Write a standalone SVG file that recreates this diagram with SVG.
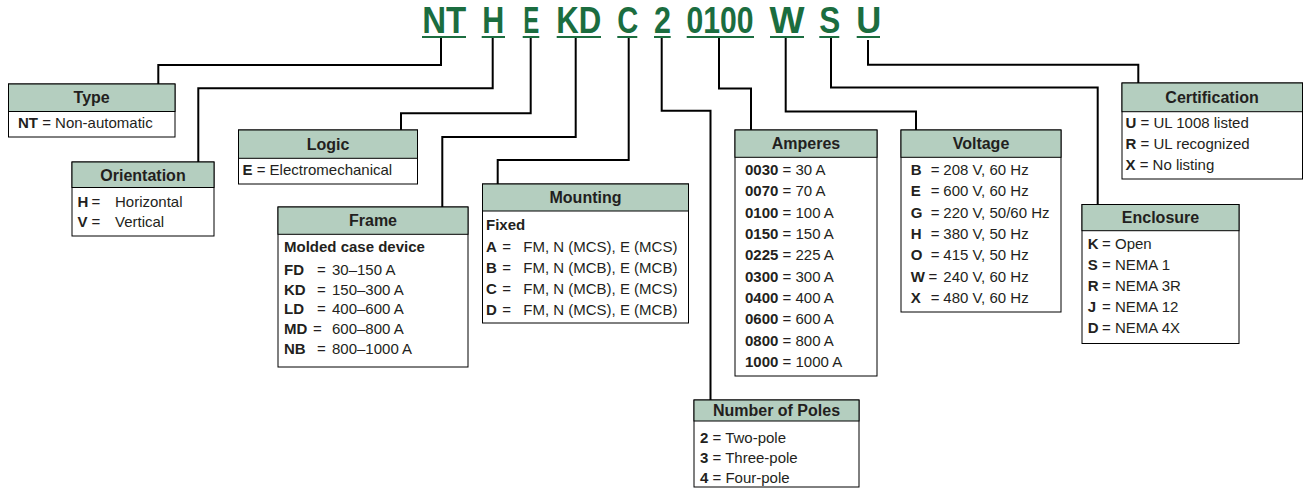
<svg xmlns="http://www.w3.org/2000/svg" width="1303" height="498" viewBox="0 0 1303 498">
<style>
text{font-family:"Liberation Sans",Arial,sans-serif;fill:#231f20;font-size:15px}
.code{font-size:36px;font-weight:bold;fill:#1b6d3f;text-anchor:middle}
.ul{fill:#1b6d3f}
.box{fill:#fff;stroke:#000;stroke-width:1}
.hdr{fill:#b4cebf;stroke:#000;stroke-width:1}
.title{font-size:16px;font-weight:bold;text-anchor:middle}
.k{font-weight:bold}
.conn path{fill:none;stroke:#000;stroke-width:2}
</style>
<rect width="1303" height="498" fill="#fff"/>
<g id="code">
<text class="code" x="444.2" y="33.3" textLength="44" lengthAdjust="spacingAndGlyphs">NT</text>
<text class="code" x="493.3" y="33.3" textLength="22" lengthAdjust="spacingAndGlyphs">H</text>
<text class="code" x="531.2" y="33.3" textLength="16" lengthAdjust="spacingAndGlyphs">E</text>
<text class="code" x="578.7" y="33.3" textLength="45" lengthAdjust="spacingAndGlyphs">KD</text>
<text class="code" x="627.8" y="33.3" textLength="21" lengthAdjust="spacingAndGlyphs">C</text>
<text class="code" x="662.5" y="33.3" textLength="17" lengthAdjust="spacingAndGlyphs">2</text>
<text class="code" x="720" y="33.3" textLength="67" lengthAdjust="spacingAndGlyphs">0100</text>
<text class="code" x="787" y="33.3" textLength="35" lengthAdjust="spacingAndGlyphs">W</text>
<text class="code" x="829.7" y="33.3" textLength="21" lengthAdjust="spacingAndGlyphs">S</text>
<text class="code" x="868.7" y="33.3" textLength="25" lengthAdjust="spacingAndGlyphs">U</text>
<rect class="ul" x="422" y="36" width="44" height="2"/>
<rect class="ul" x="481.7" y="36" width="23.3" height="2"/>
<rect class="ul" x="522.7" y="36" width="16.6" height="2"/>
<rect class="ul" x="556.7" y="36" width="44.3" height="2"/>
<rect class="ul" x="617.3" y="36" width="20" height="2"/>
<rect class="ul" x="654" y="36" width="16.7" height="2"/>
<rect class="ul" x="686.7" y="36" width="67.3" height="2"/>
<rect class="ul" x="770" y="36" width="34" height="2"/>
<rect class="ul" x="819.3" y="36" width="20" height="2"/>
<rect class="ul" x="856.7" y="36" width="23.3" height="2"/>
</g>
<g class="conn" id="connectors">
<path d="M441,38 V65 H158.3 V84"/>
<path d="M492.7,38 V88.3 H198.3 V162"/>
<path d="M530.7,38 V113.3 H401 V130"/>
<path d="M575.7,38 V137 H442.3 V207"/>
<path d="M628.7,38 V160 H497.7 V184"/>
<path d="M661.7,38 V110.7 H710.5 V400"/>
<path d="M719,38 V88.5 H751 V130"/>
<path d="M785.7,38 V111.5 H916 V130"/>
<path d="M831,38 V87.5 H1097.7 V204.5"/>
<path d="M868,40 V64.7 H1138.3 V83"/>
</g>
<g id="type">
<rect class="box" x="8.5" y="84" width="166.5" height="53"/>
<rect class="hdr" x="8.5" y="84" width="166.5" height="27.5"/>
<text class="title" x="91.7" y="102.5">Type</text>
<text x="18" y="128"><tspan class="k">NT</tspan> = Non-automatic</text>
</g>
<g id="orientation">
<rect class="box" x="72" y="162" width="142" height="74"/>
<rect class="hdr" x="72" y="162" width="142" height="25.5"/>
<text class="title" x="143" y="180.5">Orientation</text>
<text class="k" x="77.5" y="206.7">H</text><text x="91.5" y="206.7">=</text><text x="115" y="206.7">Horizontal</text>
<text class="k" x="77.5" y="227">V</text><text x="91.5" y="227">=</text><text x="115" y="227">Vertical</text>
</g>
<g id="logic">
<rect class="box" x="238.5" y="130" width="179" height="54"/>
<rect class="hdr" x="238.5" y="130" width="179" height="28.3"/>
<text class="title" x="328" y="149.5">Logic</text>
<text x="242.5" y="175"><tspan class="k">E</tspan> = Electromechanical</text>
</g>
<g id="frame">
<rect class="box" x="278" y="207" width="190" height="160"/>
<rect class="hdr" x="278" y="207" width="190" height="27.3"/>
<text class="title" x="373" y="226">Frame</text>
<text class="k" x="284" y="252.3">Molded case device</text>
<text class="k" x="284" y="275">FD</text><text x="317" y="275">=</text><text x="332" y="275">30–150 A</text>
<text class="k" x="284" y="294.5">KD</text><text x="317" y="294.5">=</text><text x="332" y="294.5">150–300 A</text>
<text class="k" x="284" y="314">LD</text><text x="317" y="314">=</text><text x="332" y="314">400–600 A</text>
<text class="k" x="284" y="334">MD</text><text x="313" y="334">=</text><text x="332" y="334">600–800 A</text>
<text class="k" x="284" y="353.5">NB</text><text x="317" y="353.5">=</text><text x="332" y="353.5">800–1000 A</text>
</g>
<g id="mounting">
<rect class="box" x="482.5" y="184" width="206" height="139"/>
<rect class="hdr" x="482.5" y="184" width="206" height="27"/>
<text class="title" x="585.5" y="203">Mounting</text>
<text class="k" x="486" y="230">Fixed</text>
<text class="k" x="486" y="251.5">A</text><text x="502.3" y="251.5">=</text><text x="523.3" y="251.5">FM, N (MCS), E (MCS)</text>
<text class="k" x="486" y="272.5">B</text><text x="502.3" y="272.5">=</text><text x="523.3" y="272.5">FM, N (MCB), E (MCB)</text>
<text class="k" x="486" y="293.5">C</text><text x="502.3" y="293.5">=</text><text x="523.3" y="293.5">FM, N (MCB), E (MCS)</text>
<text class="k" x="486" y="314.5">D</text><text x="502.3" y="314.5">=</text><text x="523.3" y="314.5">FM, N (MCS), E (MCB)</text>
</g>
<g id="amperes">
<rect class="box" x="735" y="130" width="142" height="246"/>
<rect class="hdr" x="735" y="130" width="142" height="27.3"/>
<text class="title" x="806" y="148.5">Amperes</text>
<text x="745" y="175"><tspan class="k">0030</tspan> = 30 A</text>
<text x="745" y="196.3"><tspan class="k">0070</tspan> = 70 A</text>
<text x="745" y="217.7"><tspan class="k">0100</tspan> = 100 A</text>
<text x="745" y="239"><tspan class="k">0150</tspan> = 150 A</text>
<text x="745" y="260.3"><tspan class="k">0225</tspan> = 225 A</text>
<text x="745" y="281.7"><tspan class="k">0300</tspan> = 300 A</text>
<text x="745" y="303"><tspan class="k">0400</tspan> = 400 A</text>
<text x="745" y="324.3"><tspan class="k">0600</tspan> = 600 A</text>
<text x="745" y="345.7"><tspan class="k">0800</tspan> = 800 A</text>
<text x="745" y="367"><tspan class="k">1000</tspan> = 1000 A</text>
</g>
<g id="voltage">
<rect class="box" x="901" y="130" width="160" height="182"/>
<rect class="hdr" x="901" y="130" width="160" height="27.3"/>
<text class="title" x="981" y="148.5">Voltage</text>
<text class="k" x="910.7" y="175">B</text><text x="930.7" y="175">=</text><text x="943.3" y="175">208 V, 60 Hz</text>
<text class="k" x="910.7" y="196.3">E</text><text x="930.7" y="196.3">=</text><text x="943.3" y="196.3">600 V, 60 Hz</text>
<text class="k" x="910.7" y="217.7">G</text><text x="930.7" y="217.7">=</text><text x="943.3" y="217.7">220 V, 50/60 Hz</text>
<text class="k" x="910.7" y="239">H</text><text x="930.7" y="239">=</text><text x="943.3" y="239">380 V, 50 Hz</text>
<text class="k" x="910.7" y="260.3">O</text><text x="930.7" y="260.3">=</text><text x="943.3" y="260.3">415 V, 50 Hz</text>
<text class="k" x="910.7" y="281.7">W</text><text x="928.5" y="281.7">=</text><text x="943.3" y="281.7">240 V, 60 Hz</text>
<text class="k" x="910.7" y="303">X</text><text x="930.7" y="303">=</text><text x="943.3" y="303">480 V, 60 Hz</text>
</g>
<g id="poles">
<rect class="box" x="694" y="400" width="165" height="87"/>
<rect class="hdr" x="694" y="400" width="165" height="21"/>
<text class="title" x="776.5" y="416">Number of Poles</text>
<text x="700" y="443"><tspan class="k">2</tspan> = Two-pole</text>
<text x="700" y="463"><tspan class="k">3</tspan> = Three-pole</text>
<text x="700" y="483"><tspan class="k">4</tspan> = Four-pole</text>
</g>
<g id="enclosure">
<rect class="box" x="1082" y="204.5" width="157" height="139"/>
<rect class="hdr" x="1082" y="204.5" width="157" height="26.2"/>
<text class="title" x="1160.5" y="222.5">Enclosure</text>
<text class="k" x="1087.7" y="248.5">K</text><text x="1102" y="248.5">=</text><text x="1115" y="248.5">Open</text>
<text class="k" x="1087.7" y="269.5">S</text><text x="1102" y="269.5">=</text><text x="1115" y="269.5">NEMA 1</text>
<text class="k" x="1087.7" y="290.5">R</text><text x="1102" y="290.5">=</text><text x="1115" y="290.5">NEMA 3R</text>
<text class="k" x="1087.7" y="311.5">J</text><text x="1102" y="311.5">=</text><text x="1115" y="311.5">NEMA 12</text>
<text class="k" x="1087.7" y="332.5">D</text><text x="1102" y="332.5">=</text><text x="1115" y="332.5">NEMA 4X</text>
</g>
<g id="certification">
<rect class="box" x="1122" y="83" width="180.5" height="96"/>
<rect class="hdr" x="1122" y="83" width="180.5" height="28.7"/>
<text class="title" x="1212" y="102.5">Certification</text>
<text x="1125.5" y="128.3"><tspan class="k">U</tspan> = UL 1008 listed</text>
<text x="1125.5" y="149.3"><tspan class="k">R</tspan> = UL recognized</text>
<text x="1125.5" y="170"><tspan class="k">X</tspan> = No listing</text>
</g>
</svg>
